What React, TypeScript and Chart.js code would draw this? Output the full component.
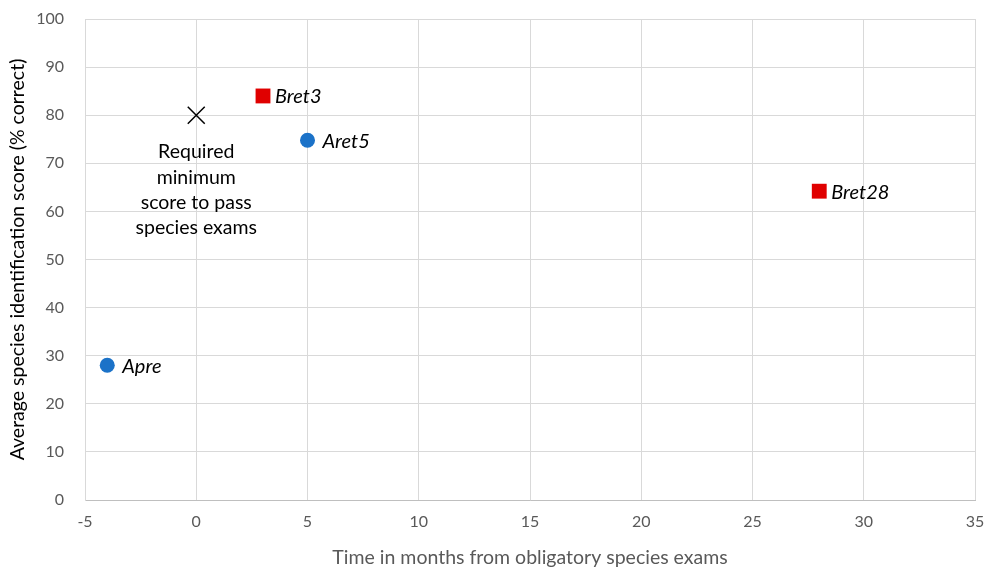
import React, { useEffect, useRef } from 'react';
import { Chart, registerables } from 'chart.js';
Chart.register(...registerables);

const groupALabels = ['Apre', 'Aret5'];
const groupAX = [-4, 5];
const groupAY = [28, 74.8];
const groupBLabels = ['Bret3', 'Bret28'];
const groupBX = [3, 28];
const groupBY = [84, 64.2];
const thresholdX = [0];
const thresholdY = [80];
const thresholdNote = ['Required', 'minimum', 'score to pass', 'species exams'];
const xMin = -5, xMax = 35, xStep = 5;
const yMin = 0, yMax = 100, yStep = 10;
const xTitle = 'Time in months from obligatory species exams';
const yTitle = 'Average species identification score (% correct)';

const FONT = 'Lato, "Open Sans", sans-serif';

const labelPlugin = {
  id: 'pointLabels',
  afterDatasetsDraw(chart: any) {
    const ctx = chart.ctx;
    ctx.save();
    chart.data.datasets.forEach((ds: any, di: number) => {
      const meta = chart.getDatasetMeta(di);
      if (ds.pointNames) {
        ctx.font = `italic 20px ${FONT}`;
        ctx.fillStyle = '#000';
        ctx.textAlign = 'left';
        ctx.textBaseline = 'middle';
        meta.data.forEach((pt: any, i: number) => {
          ctx.fillText(ds.pointNames[i], pt.x + ds.labelOffset, pt.y + 1);
        });
      }
      if (ds.note) {
        ctx.font = `19.5px ${FONT}`;
        ctx.fillStyle = '#000';
        ctx.textAlign = 'center';
        ctx.textBaseline = 'middle';
        const pt = meta.data[0];
        ds.note.forEach((line: string, i: number) => {
          ctx.fillText(line, pt.x, pt.y + 37 + i * 25.3);
        });
      }
    });
    ctx.restore();
  },
};

export default function App() {
  const ref = useRef<HTMLCanvasElement>(null);
  useEffect(() => {
    document.body.style.margin = '0';
    const toPts = (xs: number[], ys: number[]) => xs.map((x, i) => ({ x, y: ys[i] }));
    const chart = new Chart(ref.current!, {
      type: 'scatter',
      data: {
        datasets: [
          {
            data: toPts(groupAX, groupAY),
            pointStyle: 'circle',
            pointRadius: 7.5,
            pointHoverRadius: 7.5,
            backgroundColor: '#1B72C8',
            borderColor: '#1B72C8',
            borderWidth: 0,
            pointNames: groupALabels,
            labelOffset: 15,
          } as any,
          {
            data: toPts(groupBX, groupBY),
            pointStyle: 'rect',
            pointRadius: 10.5,
            pointHoverRadius: 10.5,
            backgroundColor: '#E00000',
            borderColor: '#E00000',
            borderWidth: 0,
            pointNames: groupBLabels,
            labelOffset: 12,
          } as any,
          {
            data: toPts(thresholdX, thresholdY),
            pointStyle: 'crossRot',
            pointRadius: 12,
            pointHoverRadius: 12,
            borderColor: '#000',
            backgroundColor: '#000',
            borderWidth: 1.5,
            note: thresholdNote,
          } as any,
        ],
      },
      options: {
        responsive: false,
        animation: false,
        layout: { padding: { top: 19, right: 16, left: 0, bottom: 0 } },
        plugins: { legend: { display: false }, tooltip: { enabled: false } },
        scales: {
          x: {
            type: 'linear',
            min: xMin,
            max: xMax,
            ticks: { stepSize: xStep, color: '#595959', font: { family: FONT, size: 16 }, padding: 12 },
            grid: { color: '#d9d9d9', drawTicks: false, lineWidth: 1 },
            border: { color: '#bfbfbf', width: 1 },
            title: { display: true, text: xTitle, color: '#595959', font: { family: FONT, size: 19.5 }, padding: { top: 4, bottom: 1 } },
            afterFit: (s: any) => { s.height = 70; s.paddingLeft = 0; s.paddingRight = 0; },
          },
          y: {
            type: 'linear',
            min: yMin,
            max: yMax,
            ticks: { stepSize: yStep, color: '#595959', font: { family: FONT, size: 16 }, padding: 21 },
            grid: { color: '#d9d9d9', drawTicks: false, lineWidth: 1 },
            border: { color: '#d9d9d9', width: 1 },
            title: { display: true, text: yTitle, color: '#000', font: { family: FONT, size: 19.5 }, padding: { top: 6, bottom: 4 } },
            afterFit: (s: any) => { s.width = 85; s.paddingTop = 0; s.paddingBottom = 0; },
          },
        },
      },
      plugins: [labelPlugin],
    } as any);
    return () => chart.destroy();
  }, []);
  return (
    <div style={{ width: 991, height: 570 }}>
      <canvas ref={ref} width={991} height={570} />
    </div>
  );
}
